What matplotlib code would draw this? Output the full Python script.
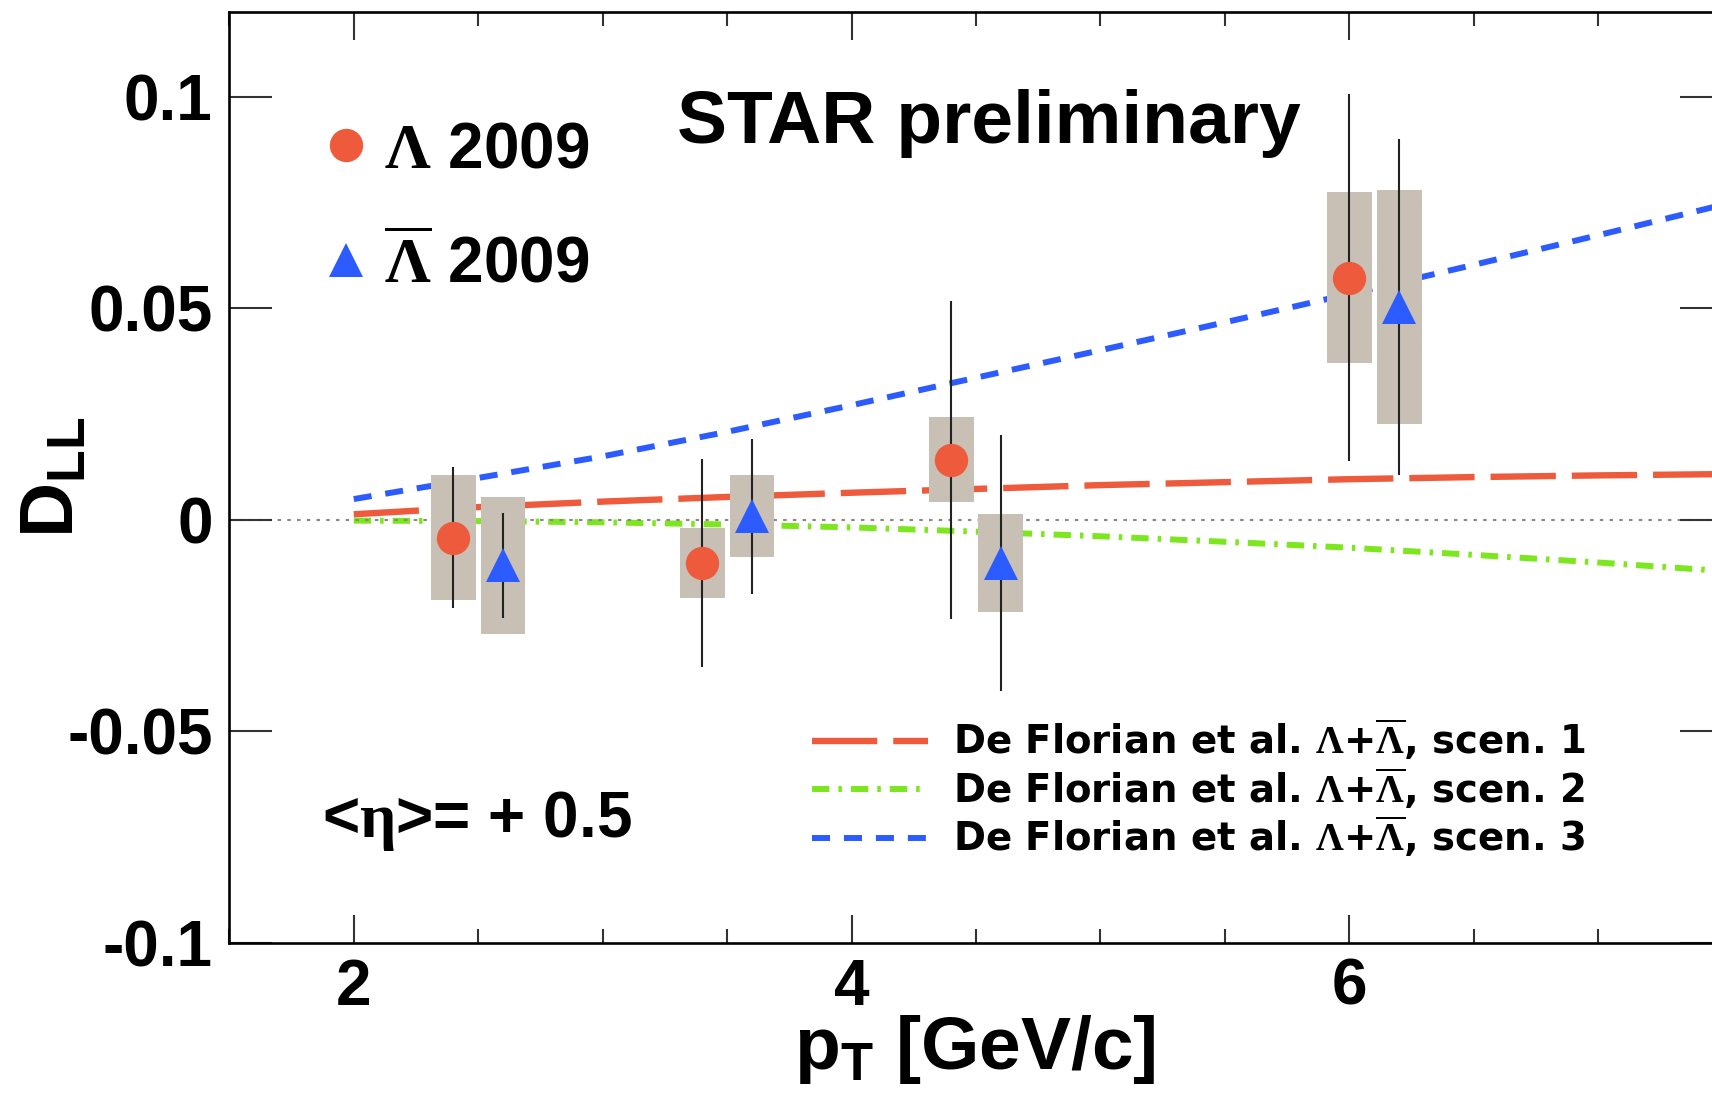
import matplotlib
matplotlib.use('Agg')
import matplotlib.pyplot as plt
from matplotlib.ticker import MultipleLocator

# D_LL vs pT, STAR 2009, <eta> = +0.5
lam_pt = [2.4, 3.4, 4.4, 6.0]
lam_dll = [-0.0042, -0.0102, 0.0142, 0.0573]
lam_stat = [0.0167, 0.0246, 0.0376, 0.0435]
lam_sys = [0.0148, 0.0083, 0.0100, 0.0202]

alam_pt = [2.6, 3.6, 4.6, 6.2]
alam_dll = [-0.0108, 0.0008, -0.0102, 0.0503]
alam_stat = [0.0125, 0.0183, 0.0302, 0.0397]
alam_sys = [0.0162, 0.0097, 0.0116, 0.0276]

# De Florian et al. predictions
theory_pt = [2.0, 2.5, 3.0, 3.5, 4.0, 4.5, 5.0, 5.5, 6.0, 6.5, 7.0, 7.5]
scen1 = [0.0013, 0.0030, 0.0043, 0.0054, 0.0064, 0.0073, 0.0082, 0.0089, 0.0096, 0.0101, 0.0105, 0.0108]
scen2 = [-0.0002, -0.0003, -0.0006, -0.0011, -0.0018, -0.0028, -0.0039, -0.0052, -0.0066, -0.0083, -0.0101, -0.0121]
scen3 = [0.0049, 0.0099, 0.0150, 0.0208, 0.0271, 0.0336, 0.0401, 0.0467, 0.0534, 0.0603, 0.0673, 0.0745]

x_ticks = [2, 4, 6]
x_ticklabels = ['2', '4', '6']
y_ticks = [-0.1, -0.05, 0, 0.05, 0.1]
y_ticklabels = ['-0.1', '-0.05', '0', '0.05', '0.1']

RED = '#ee5b3c'
BLUE = '#2c5cff'
GREEN = '#7ce61e'
BOX = '#c8bfb5'

plt.rcParams['font.family'] = ['Liberation Sans', 'DejaVu Sans']
plt.rcParams['font.weight'] = 'bold'
plt.rcParams['axes.labelweight'] = 'bold'
plt.rcParams['mathtext.fontset'] = 'custom'
plt.rcParams['mathtext.rm'] = 'Liberation Sans:bold'
plt.rcParams['mathtext.bf'] = 'Liberation Sans:bold'
plt.rcParams['mathtext.it'] = 'Liberation Sans:bold:italic'
plt.rcParams['mathtext.sf'] = 'Liberation Serif'
plt.rcParams['lines.scale_dashes'] = False

fig = plt.figure(figsize=(17.12, 11.04), dpi=100)
ax = fig.add_axes([229.3 / 1712, 1 - 942.6 / 1104, 1493.4 / 1712, 930.2 / 1104])

# theory curves
ax.plot(theory_pt, scen1, color=RED, lw=4.6, ls=(0, (47, 11.5)), zorder=1,
        label=r'De Florian et al. $\mathsf{\Lambda}$+$\overline{\mathsf{\Lambda}}$, scen. 1')
ax.plot(theory_pt, scen2, color=GREEN, lw=4.3, ls=(0, (12.5, 6.5, 2.5, 6.5)), zorder=1,
        label=r'De Florian et al. $\mathsf{\Lambda}$+$\overline{\mathsf{\Lambda}}$, scen. 2')
ax.plot(theory_pt, scen3, color=BLUE, lw=4.3, ls=(0, (13, 10)), zorder=1,
        label=r'De Florian et al. $\mathsf{\Lambda}$+$\overline{\mathsf{\Lambda}}$, scen. 3')
theory_handles = ax.get_lines()[:3]

ax.axhline(0, color='#888888', lw=1.5, ls=(0, (2.5, 4.5)), zorder=1.5)

# systematic boxes
ax.bar(lam_pt, [2 * s for s in lam_sys], bottom=[y - s for y, s in zip(lam_dll, lam_sys)],
       width=0.18, color=BOX, zorder=2)
ax.bar(alam_pt, [2 * s for s in alam_sys], bottom=[y - s for y, s in zip(alam_dll, alam_sys)],
       width=0.18, color=BOX, zorder=2)

# statistical errors
ax.errorbar(lam_pt, lam_dll, yerr=lam_stat, fmt='none', ecolor='#222222', elinewidth=1.5, capsize=0, zorder=3)
ax.errorbar(alam_pt, alam_dll, yerr=alam_stat, fmt='none', ecolor='#222222', elinewidth=1.5, capsize=0, zorder=3)

h_lam, = ax.plot(lam_pt, lam_dll, 'o', color=RED, ms=24, mew=0, zorder=4,
                 label=r'$\mathsf{\Lambda}$ 2009')
h_alam, = ax.plot(alam_pt, alam_dll, '^', color=BLUE, ms=24, mew=0, zorder=4,
                  label=r'$\overline{\mathsf{\Lambda}}$ 2009')

ax.set_xlim(1.5, 7.5)
ax.set_ylim(-0.1, 0.12)
ax.set_xticks(x_ticks)
ax.set_xticklabels(x_ticklabels)
ax.xaxis.set_minor_locator(MultipleLocator(0.5))
ax.set_yticks(y_ticks)
ax.set_yticklabels(y_ticklabels)

ax.tick_params(which='both', direction='in', top=True, right=True, width=1.5, color='#333333',
               labelsize=46)
ax.tick_params(axis='x', which='major', length=20, pad=11)
ax.tick_params(axis='x', which='minor', length=10)
ax.tick_params(axis='y', which='major', length=31, pad=12)
for sp in ax.spines.values():
    sp.set_linewidth(1.9)

ax.set_xlabel(r'$\mathbf{p}_{\mathbf{T}}$ [GeV/c]', fontsize=54, fontweight='bold')
ax.xaxis.set_label_coords(0.499, -0.076)
ax.set_ylabel(r'D$_{\mathbf{LL}}$', fontsize=55, fontweight='bold')
ax.yaxis.set_label_coords(-0.094, 0.5)

ax.text(3.30, 0.0892, 'STAR preliminary', fontsize=54, va='baseline', ha='left')
ax.text(1.871, -0.0751, r'<$\mathsf{\eta}$>= + 0.5', fontsize=46, va='baseline', ha='left')

leg1 = ax.legend(handles=[h_lam, h_alam], loc='upper left', bbox_to_anchor=(0.0654, 0.884),
                 frameon=False, fontsize=46, handlelength=0.6, handletextpad=0.3,
                 labelspacing=0.83, borderpad=0, borderaxespad=0, numpoints=1)
ax.add_artist(leg1)
ax.legend(handles=theory_handles, loc='upper left', bbox_to_anchor=(0.3905, 0.243),
          frameon=False, prop={'family': 'DejaVu Sans', 'weight': 'bold', 'size': 27.8},
          handlelength=3.0, handletextpad=0.64, labelspacing=0.08, borderpad=0, borderaxespad=0)

fig.savefig('out.png', dpi=100)
